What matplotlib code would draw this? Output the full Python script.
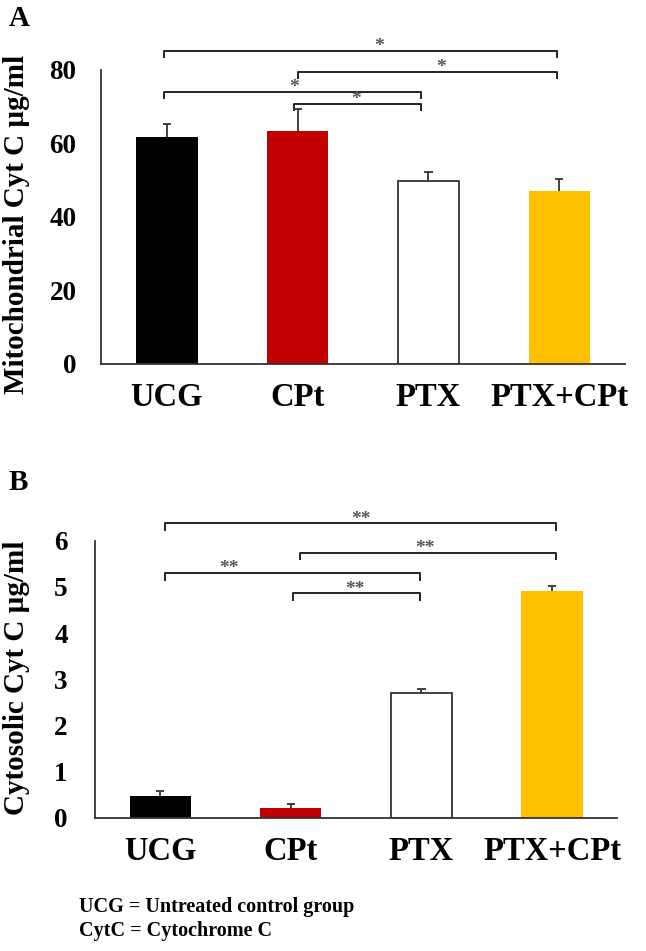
import numpy as np
import matplotlib
matplotlib.use("Agg")
from matplotlib import pyplot as plt

plt.rcParams['font.family'] = ['Liberation Serif', 'DejaVu Serif']
plt.rcParams['font.weight'] = 'bold'

groups = ['UCG', 'CPt', 'PTX', 'PTX+CPt']
bar_colors = ['#000000', '#C00000', '#FFFFFF', '#FFC000']

# panel A: mitochondrial cyt C
mito_vals = [61.9, 63.5, 49.9, 47.1]
mito_err = [3.4, 6.0, 2.3, 3.3]
# brackets: (x start, x end, height, star x, label)
mito_sig = [(-0.02, 2.98, 85.1, 1.62, '*'),
            (1.00, 2.98, 79.5, 2.10, '*'),
            (-0.02, 1.94, 73.9, 0.97, '*'),
            (0.97, 1.94, 70.7, 1.45, '*')]

# panel B: cytosolic cyt C
cyto_vals = [0.48, 0.21, 2.70, 4.92]
cyto_err = [0.11, 0.09, 0.10, 0.10]
cyto_sig = [(0.04, 3.03, 6.38, 1.54, '**'),
            (1.07, 3.03, 5.74, 2.03, '**'),
            (0.04, 1.99, 5.30, 0.53, '**'),
            (1.02, 1.99, 4.86, 1.49, '**')]

fig = plt.figure(figsize=(6.46, 9.51), dpi=100)
axA = fig.add_axes([0.157, 0.6173, 0.810, 0.3091])
axB = fig.add_axes([0.1469, 0.1399, 0.8087, 0.2915])


def draw_panel(ax, vals, errs, sig, ymax, yticks, tip, star_off, ypad):
    x = np.arange(len(groups))
    ax.bar(x, vals, width=0.47, color=bar_colors, edgecolor=['none', 'none', '#222222', 'none'],
           linewidth=1.2, zorder=2)
    tops = np.array(vals) + np.array(errs)
    ax.vlines(x, vals, tops, color='#333333', lw=1.3, zorder=3)
    ax.hlines(tops, x - 0.032, x + 0.032, color='#333333', lw=1.3, zorder=3)
    ax.set_xlim(-0.5, 3.5)
    ax.set_ylim(0, ymax)
    ax.set_yticks(yticks)
    ax.set_xticks(x)
    ax.set_xticklabels(groups, fontsize=23.5, fontweight='bold')
    for lab in ax.get_yticklabels():
        lab.set_fontsize(19.5)
        lab.set_fontweight('bold')
    ax.tick_params(axis='y', length=0, pad=ypad)
    ax.tick_params(axis='x', length=0, pad=13)
    for s in ['top', 'right']:
        ax.spines[s].set_visible(False)
    for s in ['left', 'bottom']:
        ax.spines[s].set_color('#333333')
        ax.spines[s].set_linewidth(1.3)
    for x0, x1, h, sx, lab in sig:
        ax.plot([x0, x0, x1, x1], [h - tip, h, h, h - tip], color='#222222', lw=1.4,
                clip_on=False)
        ax.text(sx, h + star_off, lab, ha='center', va='center', fontsize=14,
                color='#555555', clip_on=False)


draw_panel(axA, mito_vals, mito_err, mito_sig, 80, [0, 20, 40, 60, 80], 1.6, 1.3, 18)
draw_panel(axB, cyto_vals, cyto_err, cyto_sig, 6, [0, 1, 2, 3, 4, 5, 6], 0.14, 0.09, 19.5)

fig.text(17 / 646, 1 - 224 / 951, 'Mitochondrial Cyt C µg/ml', rotation=90, ha='center',
         va='center', fontsize=21, fontweight='bold')
fig.text(17 / 646, 1 - 678 / 951, 'Cytosolic Cyt C µg/ml', rotation=90, ha='center',
         va='center', fontsize=21, fontweight='bold')

fig.text(9 / 646, 1 - 19 / 951, 'A', ha='left', va='center', fontsize=21, fontweight='bold')
fig.text(9 / 646, 1 - 483 / 951, 'B', ha='left', va='center', fontsize=21, fontweight='bold')

fig.text(79 / 646, 1 - 907 / 951, 'UCG = Untreated control group', ha='left', va='center',
         fontsize=14.5, fontweight='bold')
fig.text(79 / 646, 1 - 931 / 951, 'CytC = Cytochrome C', ha='left', va='center',
         fontsize=14.5, fontweight='bold')

fig.savefig('out.png', dpi=100)
